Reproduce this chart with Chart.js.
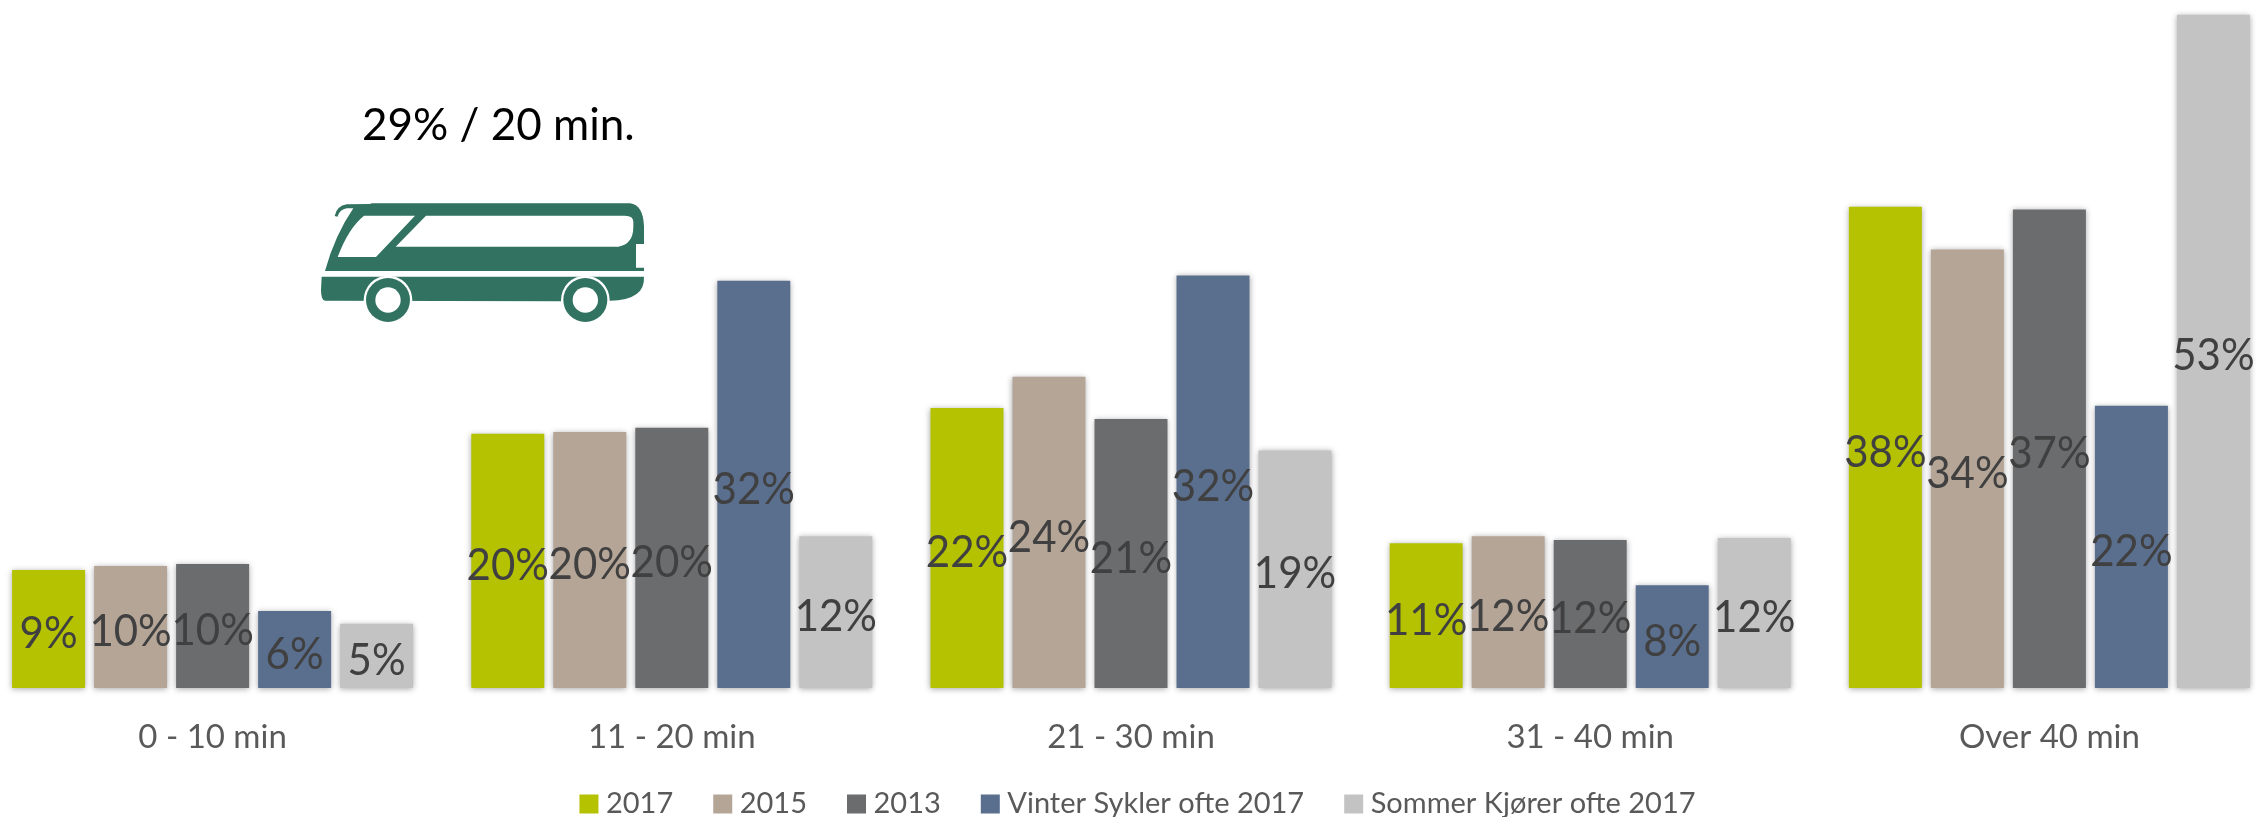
<!DOCTYPE html>
<html>
<head>
<meta charset="utf-8">
<script src="https://cdn.jsdelivr.net/npm/chart.js@4"></script>
<style>
html,body{margin:0;padding:0;background:#fff;width:2257px;height:817px;overflow:hidden}
#c{position:absolute;left:-17px;top:0}
#cap{position:absolute;left:362px;top:91px;font:44px/64px Lato,sans-serif;color:#000;white-space:nowrap}
#bus{position:absolute;left:290px;top:80px}
</style>
</head>
<body>
<canvas id="c" width="2296" height="817"></canvas>
<div id="cap">29% / 20 min.</div>
<svg id="bus" width="400" height="260" viewBox="0 0 1200 780">
  <path fill="#317360" fill-rule="evenodd" d="M105 573 Q135 465 190 385 L170 385 Q150 388 142 410 L134 408 Q140 378 170 373 L240 372 L245 370 L1020 370 Q1060 375 1062 440 L1062 492 L1038 492 L1038 563 L1062 563 L1062 573 Z M143 531 L258 531 L375 407 L222 407 Q175 445 143 531 Z M317 500 L985 500 Q1030 492 1030 440 L1030 425 Q1030 407 1005 407 L408 407 Z"/>
  <path fill="#317360" d="M95 590 L1062 590 Q1066 660 960 662 L815 662 L815 664 L105 662 Q93 660 93 630 Z"/>
  <g>
    <circle cx="294" cy="660" r="73" fill="#fff"/>
    <circle cx="294" cy="660" r="66" fill="#317360"/>
    <circle cx="294" cy="660" r="38" fill="#fff"/>
    <circle cx="886" cy="660" r="73" fill="#fff"/>
    <circle cx="886" cy="660" r="66" fill="#317360"/>
    <circle cx="886" cy="660" r="38" fill="#fff"/>
  </g>
</svg>
<script>
const categories = ["0 - 10 min", "11 - 20 min", "21 - 30 min", "31 - 40 min", "Over 40 min"];
const seriesNames = ["2017", "2015", "2013", "Vinter Sykler ofte 2017", "Sommer Kjører ofte 2017"];
const values2017   = [9.24, 19.91, 21.93, 11.33, 37.69];
const values2015   = [9.55, 20.05, 24.38, 11.88, 34.35];
const values2013   = [9.71, 20.38, 21.07, 11.59, 37.49];
const valuesVinter = [6.03, 31.90, 32.32, 8.04, 22.11];
const valuesSommer = [5.04, 11.88, 18.61, 11.75, 52.74];
const seriesColors = ["#B5C202", "#B5A597", "#6B6C6E", "#5A6E8E", "#C3C3C3"];

const allValues = [values2017, values2015, values2013, valuesVinter, valuesSommer];

const barShadow = {
  id: "barShadow",
  beforeDatasetsDraw(chart) {
    const ctx = chart.ctx;
    ctx.save();
    ctx.shadowColor = "rgba(0,0,0,0.35)";
    ctx.shadowBlur = 6;
    ctx.shadowOffsetX = 0;
    ctx.shadowOffsetY = 1;
  },
  afterDatasetsDraw(chart) { chart.ctx.restore(); }
};

const valueLabels = {
  id: "valueLabels",
  afterDatasetsDraw(chart) {
    const ctx = chart.ctx;
    ctx.save();
    ctx.font = "42px Lato, sans-serif";
    ctx.fillStyle = "#404040";
    ctx.textAlign = "center";
    ctx.textBaseline = "middle";
    chart.data.datasets.forEach((ds, i) => {
      chart.getDatasetMeta(i).data.forEach((bar, j) => {
        const y = (bar.y + bar.base) / 2 + 4.5;
        ctx.save();
        ctx.translate(bar.x, y);
        ctx.scale(1, 1.08);
        ctx.fillText(Math.round(ds.data[j]) + "%", 0, 0);
        ctx.restore();
      });
    });
    ctx.restore();
  }
};

const legendPlace = {
  id: "legendPlace",
  afterLayout(chart) {
    const l = chart.legend;
    l.left += 10; l.right += 10;
    l.top = 789.5 - 47;
  }
};

new Chart(document.getElementById("c"), {
  type: "bar",
  data: {
    labels: categories,
    datasets: seriesNames.map((name, i) => ({
      label: name,
      data: allValues[i],
      backgroundColor: seriesColors[i],
      borderWidth: 0,
      categoryPercentage: 0.893,
      barPercentage: 0.89,
      clip: false
    }))
  },
  options: {
    responsive: false,
    animation: false,
    layout: { padding: { top: 5, left: 0, right: 0, bottom: 0 } },
    scales: {
      x: {
        grid: { display: false },
        border: { display: false },
        ticks: { color: "#595959", font: { family: "Lato, sans-serif", size: 33 }, padding: 22, maxRotation: 0 },
        afterFit(s) { s.height = 89; }
      },
      y: { display: false, min: 0, max: 53.5 }
    },
    plugins: {
      tooltip: { enabled: false },
      legend: {
        position: "bottom",
        maxHeight: 40,
        labels: {
          color: "#595959",
          font: { family: "Lato, sans-serif", size: 29 },
          boxWidth: 5,
          boxHeight: 5,
          padding: 47,
          generateLabels(chart) {
            return Chart.defaults.plugins.legend.labels.generateLabels(chart).map(l =>
              Object.assign(l, { lineWidth: 14, strokeStyle: l.fillStyle }));
          }
        }
      }
    }
  },
  plugins: [barShadow, valueLabels, legendPlace]
});
</script>
</body>
</html>
